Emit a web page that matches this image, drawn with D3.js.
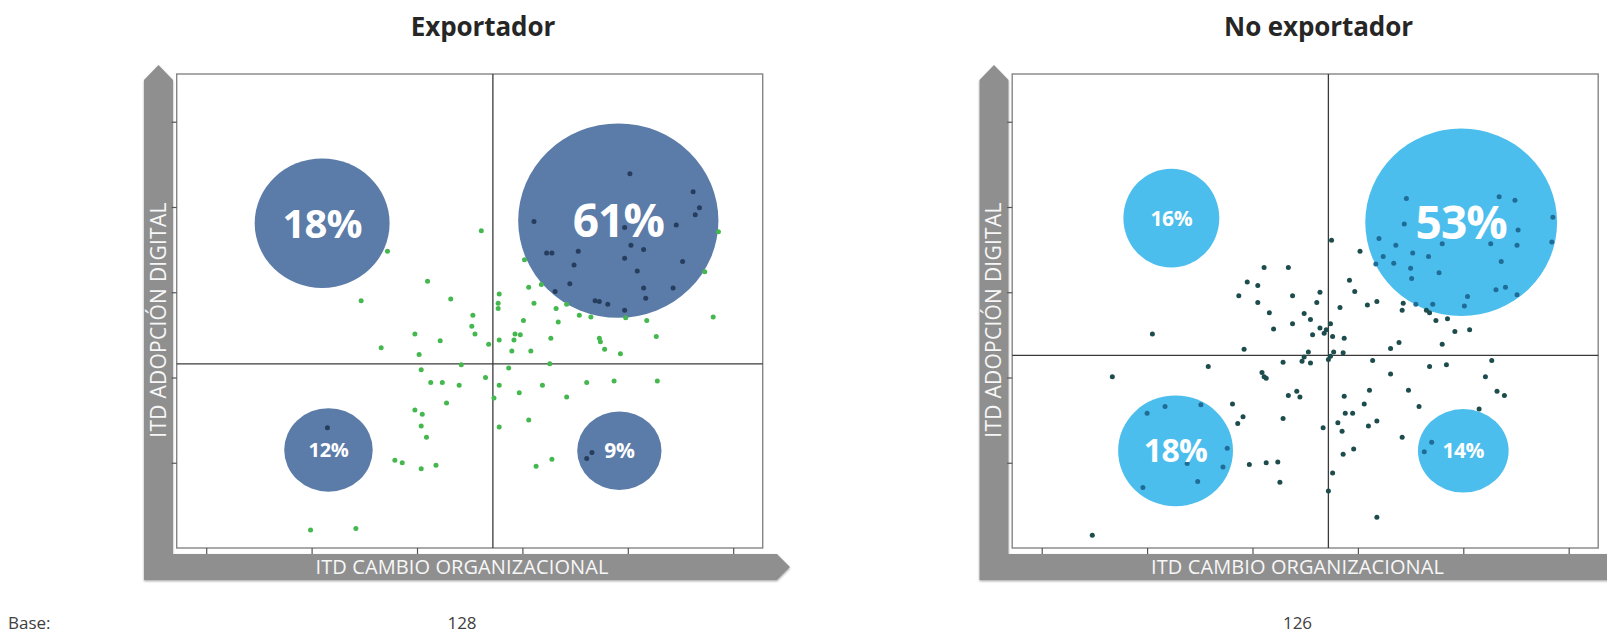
<!DOCTYPE html>
<html><head><meta charset="utf-8">
<script src="https://cdn.jsdelivr.net/npm/d3@7"></script>
<style>
body{margin:0;background:#fff;}
svg{display:block;font-family:'Open Sans','Noto Sans',sans-serif;}
</style>
</head><body>
<svg id="chart" width="1607" height="638"></svg>
<script>
// ---------------- DATA ----------------
const panelTitles = ["Exportador", "No exportador"];
const baseCounts = ["128", "126"];
const baseLabel = "Base:";
const xAxisTitle = "ITD CAMBIO ORGANIZACIONAL";
const yAxisTitle = "ITD ADOPCIÓN DIGITAL";
const xTickValues = [1, 2, 3, 4, 5, 6];
const yTickValues = [1, 2, 3, 4, 5];
const xDomain = [0.72, 6.28];
const yDomain = [0, 5.56];
const splitX = [3.72, 3.72];   // vertical quadrant divider per panel
const splitY = [2.16, 2.26];   // horizontal quadrant divider per panel

// Bubbles: label, centre (x,y) and half-extent (x,y) in axis units
const expBubbleLabels = ["18%", "61%", "12%", "9%"];
const expBubbleX = [2.10, 4.91, 2.16, 4.92];
const expBubbleY = [3.81, 3.84, 1.15, 1.14];
const expBubbleRx = [0.64, 0.95, 0.42, 0.40];
const expBubbleRy = [0.76, 1.14, 0.49, 0.46];

const noExpBubbleLabels = ["16%", "53%", "18%", "14%"];
const noExpBubbleX = [2.23, 4.98, 2.27, 5.00];
const noExpBubbleY = [3.87, 3.82, 1.14, 1.14];
const noExpBubbleRx = [0.455, 0.91, 0.545, 0.43];
const noExpBubbleRy = [0.58, 1.10, 0.65, 0.49];

// Companies: [ITD cambio organizacional, ITD adopción digital]
const expPoints = [
[5.02,4.39],[5.62,4.18],[5.68,3.99],[5.64,3.91],[4.11,3.83],[3.61,3.72],[5.46,3.79],[4.97,3.76],
[5.86,3.71],[5.03,3.55],[5.15,3.50],[4.53,3.48],[4.23,3.46],[4.28,3.46],[2.72,3.48],[4.97,3.40],
[4.49,3.32],[5.52,3.36],[4.02,3.38],[5.09,3.25],[5.73,3.24],[3.10,3.13],[4.06,3.06],[4.18,3.09],
[4.45,3.10],[4.31,3.01],[5.15,3.05],[5.43,3.05],[3.78,2.98],[2.47,2.90],[3.32,2.92],[4.69,2.90],
[4.73,2.89],[4.81,2.86],[5.17,2.93],[3.77,2.87],[4.11,2.87],[4.42,2.86],[3.77,2.81],[4.32,2.81],
[4.97,2.79],[4.54,2.73],[4.65,2.71],[4.98,2.70],[5.18,2.67],[5.81,2.71],[3.53,2.73],[4.01,2.67],
[4.34,2.65],[3.52,2.60],[2.98,2.51],[3.55,2.51],[3.93,2.51],[3.98,2.50],[3.92,2.44],[3.22,2.43],
[3.78,2.44],[4.27,2.46],[4.73,2.46],[4.74,2.42],[5.27,2.48],[3.68,2.39],[2.66,2.35],[3.90,2.31],
[4.08,2.31],[4.78,2.33],[4.93,2.28],[3.02,2.27],[3.42,2.15],[4.26,2.16],[3.04,2.09],[3.87,2.11],
[3.65,2.00],[3.13,1.94],[3.24,1.94],[3.40,1.91],[3.78,1.91],[4.19,1.91],[4.61,1.94],[4.87,1.96],
[5.28,1.96],[3.97,1.82],[3.73,1.76],[4.42,1.77],[3.28,1.70],[2.98,1.62],[3.05,1.57],[4.06,1.50],
[3.04,1.43],[3.78,1.42],[3.09,1.30],[2.15,1.41],[4.66,1.12],[4.61,1.05],[2.79,1.03],[2.86,1.00],
[4.28,1.04],[4.13,0.96],[3.18,0.97],[3.04,0.93],[1.99,0.21],[2.42,0.23]
];

const noExpPoints = [
[4.46,4.10],[5.34,4.12],[5.49,4.08],[5.85,3.88],[4.44,3.80],[5.52,3.73],[5.84,3.59],[3.75,3.61],
[4.20,3.63],[4.36,3.55],[4.80,3.57],[5.26,3.57],[5.51,3.55],[4.02,3.48],[4.52,3.46],[4.67,3.42],
[4.24,3.42],[4.34,3.34],[4.17,3.33],[5.36,3.36],[4.50,3.28],[4.77,3.23],[4.51,3.16],[3.11,3.29],
[3.34,3.29],[2.95,3.12],[3.05,3.08],[3.92,3.14],[3.97,3.01],[3.64,3.00],[2.87,2.96],[3.38,2.96],
[5.31,3.03],[5.40,3.06],[5.51,2.97],[5.04,2.95],[3.05,2.88],[3.61,2.88],[4.09,2.85],[4.18,2.89],
[3.83,2.82],[4.43,2.87],[4.42,2.79],[4.55,2.86],[4.71,2.86],[5.01,2.84],[4.65,2.79],[4.68,2.76],
[3.16,2.76],[3.49,2.75],[3.55,2.68],[4.74,2.67],[4.85,2.69],[3.38,2.63],[3.64,2.58],[3.70,2.56],
[3.74,2.63],[3.20,2.57],[3.68,2.52],[3.57,2.50],[3.76,2.48],[3.87,2.46],[4.92,2.54],[5.06,2.56],
[2.05,2.51],[4.39,2.41],[4.31,2.34],[4.80,2.39],[2.92,2.33],[3.53,2.30],[3.77,2.30],[3.86,2.29],
[3.74,2.25],[3.72,2.21],[3.49,2.24],[3.47,2.19],[3.55,2.17],[3.29,2.18],[4.14,2.20],[4.68,2.13],
[4.84,2.15],[5.27,2.20],[2.58,2.13],[1.67,2.01],[3.09,2.06],[3.11,2.01],[3.13,1.99],[4.31,2.04],
[5.21,2.01],[4.11,1.85],[4.48,1.85],[3.42,1.84],[3.45,1.77],[3.34,1.79],[5.32,1.84],[5.39,1.79],
[3.87,1.78],[4.06,1.69],[4.58,1.66],[2.81,1.69],[5.15,1.63],[3.88,1.58],[3.95,1.58],[2.91,1.54],
[2.86,1.46],[3.29,1.52],[3.81,1.47],[4.18,1.49],[4.10,1.43],[3.67,1.41],[3.85,1.37],[4.42,1.30],
[3.96,1.16],[3.86,1.10],[2.97,0.98],[3.13,1.00],[3.24,1.01],[3.76,0.88],[3.26,0.77],[3.72,0.67],
[4.18,0.36],[1.48,0.15],[2.00,1.58],[2.17,1.66],[2.51,1.68],[2.76,1.17],[2.72,0.95],[2.48,0.78],
[1.96,0.71],[2.38,0.99],[4.70,1.24],[4.63,1.13]
];

// ---------------- DRAWING ----------------
const svg = d3.select("#chart");
const defs = svg.append("defs");
const f = defs.append("filter").attr("id","sh").attr("x","-10%").attr("y","-10%").attr("width","120%").attr("height","130%");
f.append("feDropShadow").attr("dx",0).attr("dy",1.2).attr("stdDeviation",1.2).attr("flood-color","#000").attr("flood-opacity",0.35);

const panelOffsets = [0, 835.5];
const boxL = 176.7, boxR = 762.7, boxT = 74, boxB = 548;

const bubbleSets = [
  {labels: expBubbleLabels, x: expBubbleX, y: expBubbleY, rx: expBubbleRx, ry: expBubbleRy},
  {labels: noExpBubbleLabels, x: noExpBubbleX, y: noExpBubbleY, rx: noExpBubbleRx, ry: noExpBubbleRy}
];
const pointSets = [expPoints, noExpPoints];

const styles = [
  {bubble: "#5b7ba8", dot: "#44b84e", dotIn: "#263d5e", labelSizes: [40, 46, 20, 21]},
  {bubble: "#4cbeee", dot: "#1d4c4d", dotIn: "#1f6c96", labelSizes: [21, 46, 32, 21]}
];

panelTitles.forEach((title, p) => {
  const ox = panelOffsets[p];
  const g = svg.append("g").attr("transform", `translate(${ox},0)`);
  const st = styles[p];

  const x = d3.scaleLinear().domain(xDomain).range([boxL, boxR]);
  const y = d3.scaleLinear().domain(yDomain).range([boxB, boxT]);

  // Title
  g.append("text").attr("x", 483).attr("y", 36).attr("text-anchor","middle")
    .attr("font-size", 26).attr("font-weight", 700).attr("fill", "#262626")
    .attr("letter-spacing", -0.1).text(title);

  // Grey axis arrows (bands)
  const band = `M144,580 L144,80 L158.5,65 L173,80 L173,554 L777,554 L790,567 L777,580 Z`;
  g.append("path").attr("d", band).attr("fill", "#8f8f8f").attr("filter","url(#sh)");

  // Plot box
  g.append("rect").attr("x", boxL).attr("y", boxT).attr("width", boxR-boxL).attr("height", boxB-boxT)
    .attr("fill", "#fff").attr("stroke", "#858585").attr("stroke-width", 1.4);

  // Axes ticks
  const ya = g.append("g").attr("transform", `translate(${boxL},0)`)
    .call(d3.axisLeft(y).tickValues(yTickValues).tickSize(5).tickFormat(""));
  const xa = g.append("g").attr("transform", `translate(0,${boxB})`)
    .call(d3.axisBottom(x).tickValues(xTickValues).tickSize(6).tickFormat(""));
  [ya, xa].forEach(a => {
    a.select(".domain").remove();
    a.selectAll("line").attr("stroke", "#555").attr("stroke-width", 1.2);
  });

  // Quadrant dividers
  g.append("line").attr("x1", x(splitX[p])).attr("x2", x(splitX[p]))
    .attr("y1", boxT).attr("y2", boxB).attr("stroke", "#3a3a3a").attr("stroke-width", 1.3);
  g.append("line").attr("x1", boxL).attr("x2", boxR)
    .attr("y1", y(splitY[p])).attr("y2", y(splitY[p])).attr("stroke", "#3a3a3a").attr("stroke-width", 1.3);

  // Bubbles
  const bs = bubbleSets[p];
  const bubbles = bs.labels.map((l, i) => ({
    label: l, cx: x(bs.x[i]), cy: y(bs.y[i]),
    rx: x(bs.x[i] + bs.rx[i]) - x(bs.x[i]), ry: y(bs.y[i]) - y(bs.y[i] + bs.ry[i]), size: st.labelSizes[i]
  }));
  g.selectAll("ellipse.b").data(bubbles).join("ellipse").attr("class","b")
    .attr("cx", d => d.cx).attr("cy", d => d.cy).attr("rx", d => d.rx).attr("ry", d => d.ry)
    .attr("fill", st.bubble);

  // Points
  const inside = (px, py) => bubbles.some(b => ((px-b.cx)/b.rx)**2 + ((py-b.cy)/b.ry)**2 < 1);
  g.selectAll("circle.pt").data(pointSets[p]).join("circle").attr("class","pt")
    .attr("cx", d => x(d[0])).attr("cy", d => y(d[1])).attr("r", 2.5)
    .attr("fill", d => inside(x(d[0]), y(d[1])) ? st.dotIn : st.dot);

  // Bubble labels
  g.selectAll("text.bl").data(bubbles).join("text").attr("class","bl")
    .attr("x", d => d.cx).attr("y", d => d.cy).attr("dy", "0.36em")
    .attr("text-anchor","middle").attr("font-weight",700).attr("fill","#fff")
    .attr("font-size", d => d.size).attr("letter-spacing", d => -d.size*0.02).text(d => d.label);

  // Axis titles on bands
  g.append("text").attr("x", 462).attr("y", 567).attr("dy","0.35em").attr("text-anchor","middle")
    .attr("font-size", 20).attr("fill", "#f7f7f7").attr("letter-spacing", 0.1).text(xAxisTitle);
  g.append("text").attr("transform", `translate(158.5,320) rotate(-90)`).attr("dy","0.35em")
    .attr("text-anchor","middle").attr("font-size", 21).attr("fill", "#f7f7f7")
    .attr("letter-spacing", 0.25).text(yAxisTitle);

  // Base count
  g.append("text").attr("x", 462).attr("y", 629).attr("text-anchor","middle")
    .attr("font-size", 17).attr("fill", "#404040").text(baseCounts[p]);
});

svg.append("text").attr("x", 8).attr("y", 629).attr("font-size", 17).attr("fill", "#404040").text(baseLabel);
</script>
</body></html>
